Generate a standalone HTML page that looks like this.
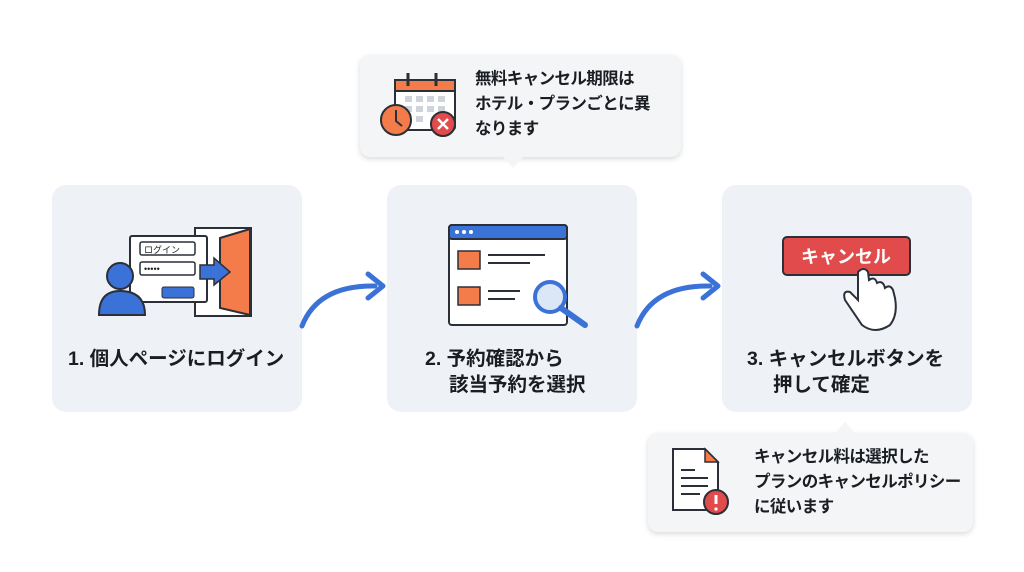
<!DOCTYPE html>
<html><head><meta charset="utf-8"><style>
body{margin:0;width:1024px;height:572px;background:#fff;position:relative;overflow:hidden;font-family:"Liberation Sans","Noto Sans CJK JP",sans-serif;color:#1a1d22}
.card{position:absolute;top:185px;width:250px;height:227px;background:#eef1f5;border-radius:14px}
.lbl{position:absolute;font-weight:bold;font-size:19.5px;line-height:27px;white-space:nowrap}
.call{position:absolute;background:#f4f5f7;border-radius:10px;box-shadow:0 2px 6px rgba(0,0,0,.15)}
.ct{position:absolute;font-weight:bold;font-size:16.5px;letter-spacing:-0.6px;line-height:25px;white-space:nowrap}
svg{position:absolute;left:0;top:0}
</style></head><body>
<div class="card" style="left:52px"></div>
<div class="card" style="left:387px"></div>
<div class="card" style="left:722px"></div>

<div class="call" style="left:360px;top:55px;width:321px;height:102px"></div>
<div class="call" style="left:648px;top:433px;width:325px;height:99px"></div>

<svg width="1024" height="572">
<polygon points="503,157 523,157 513,168" fill="#f4f5f7"/>
<polygon points="835,433 855,433 845,422" fill="#f4f5f7"/>
<path d="M302,326 Q318,285 375,286" stroke="#3a72d8" stroke-width="5" fill="none" stroke-linecap="round"/>
<path d="M368,274 L383,286 L368,298" stroke="#3a72d8" stroke-width="5" fill="none" stroke-linecap="round" stroke-linejoin="round"/>
<path d="M637,326 Q653,285 710,286" stroke="#3a72d8" stroke-width="5" fill="none" stroke-linecap="round"/>
<path d="M703,274 L718,286 L703,298" stroke="#3a72d8" stroke-width="5" fill="none" stroke-linecap="round" stroke-linejoin="round"/>

<rect x="195" y="228" width="56" height="88" fill="#fff" stroke="#2b2f38" stroke-width="2"/>
<polygon points="220,238 250,229 250,315 220,308" fill="#f47c4a" stroke="#2b2f38" stroke-width="2"/>
<rect x="130" y="236" width="77" height="66" fill="#fff" stroke="#2b2f38" stroke-width="2" rx="2"/>
<rect x="140" y="242" width="55" height="13" fill="#fff" stroke="#2b2f38" stroke-width="1.5" rx="2"/>
<text x="144" y="253" font-size="9" font-family="Noto Sans CJK JP" fill="#222">ログイン</text>
<rect x="140" y="262" width="55" height="13" fill="#fff" stroke="#2b2f38" stroke-width="1.5" rx="2"/>
<text x="144" y="272" font-size="9" fill="#222">•••••</text>
<rect x="162" y="287" width="32" height="11" fill="#3a72d8" stroke="#2b2f38" rx="2"/>
<polygon points="200,265 214,265 214,258 230,272 214,285 214,279 200,279" fill="#3a72d8" stroke="#2b2f38" stroke-width="1.5"/>
<circle cx="120" cy="276" r="13" fill="#3a72d8" stroke="#2b2f38" stroke-width="2"/>
<path d="M99,315 Q99,291 120,291 Q145,291 145,315 Z" fill="#3a72d8" stroke="#2b2f38" stroke-width="2"/>

<rect x="449" y="225" width="118" height="100" fill="#fff" stroke="#2b2f38" stroke-width="2" rx="3"/>
<rect x="449" y="225" width="118" height="14" fill="#3a72d8" stroke="#2b2f38" stroke-width="2" rx="3"/>
<circle cx="457" cy="232" r="2" fill="#fff"/><circle cx="464" cy="232" r="2" fill="#fff"/><circle cx="471" cy="232" r="2" fill="#fff"/>
<rect x="458" y="251" width="22" height="18" fill="#f47c4a" stroke="#2b2f38" stroke-width="1.5"/>
<rect x="458" y="287" width="22" height="18" fill="#f47c4a" stroke="#2b2f38" stroke-width="1.5"/>
<g stroke="#2b2f38" stroke-width="2"><line x1="488" y1="255" x2="545" y2="255"/><line x1="488" y1="263" x2="530" y2="263"/><line x1="488" y1="291" x2="520" y2="291"/><line x1="488" y1="299" x2="515" y2="299"/></g>
<circle cx="550" cy="297" r="15" fill="#dbe6f7" stroke="#3a72d8" stroke-width="4"/>
<line x1="561" y1="308" x2="585" y2="325" stroke="#3a72d8" stroke-width="6" stroke-linecap="round"/>

<rect x="783" y="237" width="127" height="38" fill="#e24b4b" stroke="#2b2f38" stroke-width="2" rx="4"/>
<text x="846" y="263" font-size="18" font-weight="bold" fill="#fff" text-anchor="middle" font-family="Liberation Sans,Noto Sans CJK JP">キャンセル</text>
<path d="M858,272 L858,300 L850,292 Q842,290 845,300 L862,325 Q875,335 890,325 Q898,315 895,298 L893,290 Q890,284 885,288 Q883,280 877,283 Q875,276 869,280 L868,272 Q864,266 858,272 Z" fill="#fff" stroke="#2b2f38" stroke-width="2"/>

<rect x="395" y="80" width="60" height="50" fill="#fff" stroke="#2b2f38" stroke-width="2" rx="3"/>
<rect x="395" y="80" width="60" height="11" fill="#f47c4a" stroke="#2b2f38" stroke-width="2"/>
<line x1="408" y1="73" x2="408" y2="86" stroke="#2b2f38" stroke-width="3"/><line x1="436" y1="73" x2="436" y2="86" stroke="#2b2f38" stroke-width="3"/>
<g fill="#cfd3da"><rect x="405" y="96" width="7" height="6"/><rect x="416" y="96" width="7" height="6"/><rect x="427" y="96" width="7" height="6"/><rect x="438" y="96" width="7" height="6"/><rect x="405" y="106" width="7" height="6"/><rect x="416" y="106" width="7" height="6"/><rect x="427" y="106" width="7" height="6"/><rect x="438" y="106" width="7" height="6"/><rect x="416" y="116" width="7" height="6"/></g>
<circle cx="396" cy="120" r="15" fill="#f47c4a" stroke="#2b2f38" stroke-width="2"/>
<path d="M396,110 L396,121 L402,126" stroke="#2b2f38" stroke-width="2" fill="none"/>
<circle cx="443" cy="124" r="12" fill="#e24b4b" stroke="#2b2f38" stroke-width="2"/>
<path d="M438,119 L448,129 M448,119 L438,129" stroke="#fff" stroke-width="2.5"/>

<path d="M673,449 L705,449 L718,462 L718,510 L673,510 Z" fill="#fff" stroke="#2b2f38" stroke-width="2"/>
<path d="M705,449 L705,462 L718,462 Z" fill="#f47c4a" stroke="#2b2f38" stroke-width="1.5"/>
<g stroke="#2b2f38" stroke-width="2"><line x1="681" y1="470" x2="695" y2="470"/><line x1="681" y1="478" x2="708" y2="478"/><line x1="681" y1="486" x2="708" y2="486"/><line x1="681" y1="494" x2="700" y2="494"/></g>
<circle cx="716" cy="502" r="12" fill="#e24b4b" stroke="#2b2f38" stroke-width="2"/>
<line x1="716" y1="495" x2="716" y2="504" stroke="#fff" stroke-width="3"/><circle cx="716" cy="509" r="1.6" fill="#fff"/>
</svg>

<div class="lbl" style="left:68px;top:346px">1. 個人ページにログイン</div>
<div class="lbl" style="left:425px;top:346px">2. 予約確認から</div>
<div class="lbl" style="left:449px;top:372px">該当予約を選択</div>
<div class="lbl" style="left:747px;top:346px">3. キャンセルボタンを</div>
<div class="lbl" style="left:773px;top:372px">押して確定</div>
<div class="ct" style="left:475px;top:67px">無料キャンセル期限は<br>ホテル・プランごとに異<br>なります</div>
<div class="ct" style="left:754px;top:445px">キャンセル料は選択した<br>プランのキャンセルポリシー<br>に従います</div>
</body></html>
